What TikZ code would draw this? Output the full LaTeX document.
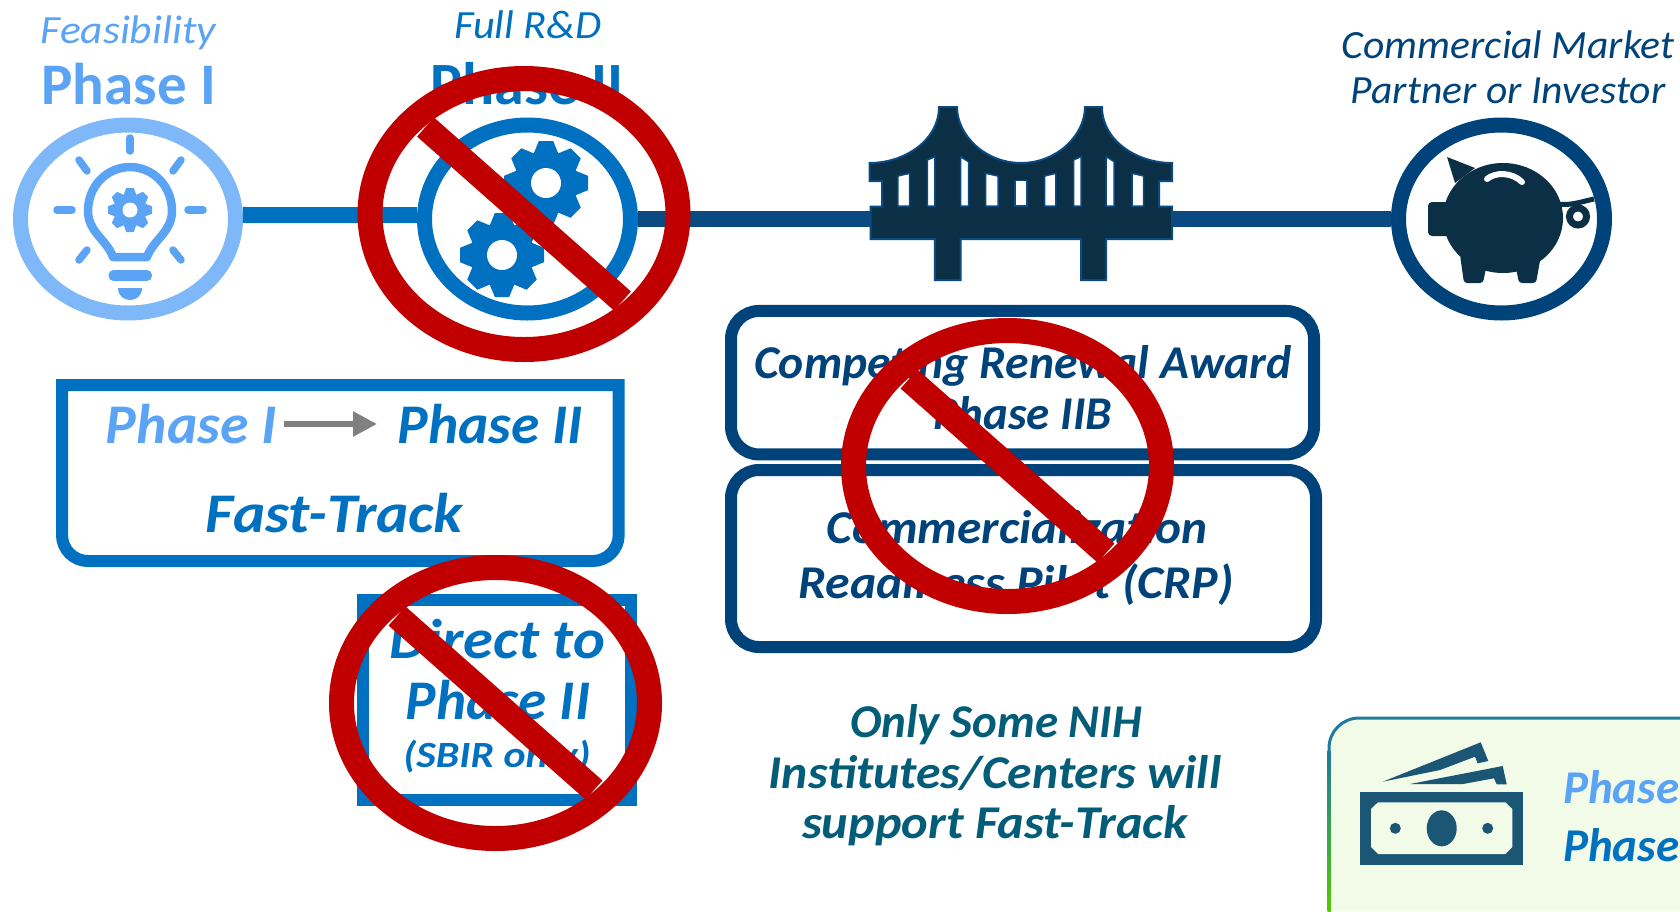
\documentclass[tikz,border=0pt]{standalone}
\usepackage{fontspec}
\setmainfont{Carlito}
\usetikzlibrary{shapes.geometric,arrows.meta}
\definecolor{ringone}{HTML}{7FB8F8}
\definecolor{phaseone}{HTML}{5BA3F5}
\definecolor{phasetwo}{HTML}{0070C0}
\definecolor{navy}{HTML}{00427A}
\definecolor{roadcol}{HTML}{0B4A80}
\definecolor{iron}{HTML}{0B2F45}
\definecolor{nored}{HTML}{C00000}
\definecolor{tealtext}{HTML}{035C78}
\definecolor{moneycol}{HTML}{1B5674}
\definecolor{panelcol}{HTML}{F2FAE8}
\definecolor{panelline}{HTML}{1F7A9C}
\newcommand{\gearicon}[6]{%
  \fill[#6] (#1,#2) circle (#3);
  \foreach \a in {0,45,...,315}
    \fill[#6,shift={(#1,#2)},rotate=\a] ({.9*#3},{-.3*#4}) -- (#4,{-.17*#4}) -- (#4,{.17*#4}) -- ({.9*#3},{.3*#4}) -- cycle;
  \fill[white] (#1,#2) circle (#5);
}
\begin{document}
\begin{tikzpicture}
  [x=1pt,y=-1pt,every node/.style={inner sep=0pt}]
  \tikzstyle{stage} = [draw,shape=ellipse,line width=15pt,minimum width=206pt,minimum height=188pt]
  \tikzstyle{nosign} = [draw=nored,shape=ellipse,line width=25pt,minimum width=308pt,minimum height=271pt]
  \tikzstyle{roundbox} = [draw=navy,shape=rectangle,line width=12pt,rounded corners=28pt]
  \tikzstyle{big} = [font=\fontsize{56}{60}\selectfont\bfseries\itshape,align=center,transform shape]
  \tikzstyle{mid} = [font=\fontsize{47}{54}\selectfont\bfseries\itshape,align=center,transform shape]
  \tikzstyle{small} = [font=\fontsize{40}{45}\selectfont\itshape,align=center,transform shape]
  \useasboundingbox (0,0) rectangle (1680,911);
  % stages
  \node[stage,draw=ringone,minimum width=215pt] (n1) at (128,219) {};
  \node[stage,draw=phasetwo] (n2) at (527.5,219) {};
  \node[stage,draw=navy] (n3) at (1501.5,219) {};
  \draw[phasetwo,line width=16pt] (n1.2) -- (n2.178);
  \draw[roadcol,line width=16pt] (n2) -- (n3);
  % titles
  \node[small,text=phaseone,anchor=base,xscale=1.086] (t1) at (128.5,43) {Feasibility};
  \node[anchor=base,text=phaseone,font=\fontsize{59}{60}\selectfont\bfseries] (t2) at (128.5,104) {Phase I};
  \node[small,text=phasetwo,anchor=base,xscale=1.06] (t3) at (528,38) {Full R\&D};
  \node[anchor=base,text=phasetwo,font=\fontsize{60}{60}\selectfont\bfseries] (t4) at (527,104) {Phase II};
  \node[small,text=navy,xscale=1.04] (t5) at (1508,67.5) {Commercial Market\\Partner or Investor};
  % bulb
  \foreach \xa/\ya/\xb/\yb in {130/138/130/151,79/160/87/171,181/160/173/171,57/210/72/210,188/210/203/210,87/250/79/260,173/250/181/260}
    \draw[phaseone,line width=7.5pt,line cap=round] (\xa,\ya) -- (\xb,\yb);
  \draw[phaseone,line width=8.5pt,line join=round] (113,257) .. controls (107,240) and (88,232) .. (88,211) .. controls (88,185) and (108,167) .. (130,167) .. controls (152,167) and (172,185) .. (172,211) .. controls (172,232) and (153,240) .. (147,257) -- cycle;
  \fill[phaseone,rounded corners=5pt] (108.5,270) rectangle (152,281);
  \fill[phaseone] (118,288) -- (142,288) .. controls (142,296) and (136,300) .. (130,300) .. controls (124,300) and (118,296) .. (118,288) -- cycle;
  \gearicon{130}{210}{16}{22}{7.5}{phaseone}
  % gears
  \gearicon{546}{183}{32}{42}{15}{phasetwo}
  \gearicon{502}{255}{32}{42}{15}{phasetwo}
  % bridge
  \filldraw[fill=iron,draw=roadcol,line width=2pt] (869.5,163) .. controls (905,163) and (939,140) .. (939,107) -- (957,107) .. controls (957,135) and (985,163) .. (1021,163) .. controls (1057,163) and (1085,135) .. (1085,107) -- (1102,107) .. controls (1102,140) and (1136,163) .. (1172,163) -- (1172,181) -- (1159,181) -- (1159,206.7) -- (1172,206.7) -- (1172,239) -- (1106.2,239) -- (1106.2,280) -- (1081,280) -- (1081,239) -- (960.5,239) -- (960.5,280) -- (934.8,280) -- (934.8,239) -- (870.5,239) -- (870.5,206.7) -- (882,206.7) -- (882,181) -- (869.5,181) -- cycle;
  \foreach \xa/\xb/\ya/\yb in {897.8/909.6/176/173.3,927.3/934.8/160/156.7,960.5/968.5/156.7/161.7,985.7/998/173.3/176,1015.2/1027/180.7/180.7,1044.6/1055.9/176/173.3,1073.5/1081/160/156.7,1106.2/1114.2/156.7/161.7,1132/1143.7/173.3/176}
    \filldraw[fill=white,draw=roadcol,line width=1.5pt] (\xa,206) -- (\xa,\ya) -- (\xb,\yb) -- (\xb,206) -- cycle;
  % piggy
  \fill[iron] (1503,218) ellipse (60 and 55);
  \fill[iron,rounded corners=4pt] (1428,202) rectangle (1450,236);
  \fill[iron] (1447,157) -- (1475,168) -- (1455,183) -- cycle;
  \fill[iron,rounded corners=3pt] (1460,255) -- (1464,283) -- (1483,283) -- (1486,268) -- (1516,268) -- (1519,283) -- (1536,283) -- (1541,255) -- cycle;
  \draw[white,line width=6pt,line cap=round] (1487,179) .. controls (1495,172) and (1512,172) .. (1522,182);
  \draw[iron,line width=5pt] (1556,204) .. controls (1570,206) and (1580,202) .. (1594,199);
  \draw[iron,line width=7pt] (1578,216.5) ellipse (8.5 and 8.5);
  % boxes
  \draw[phasetwo,line width=12pt] (62,385) -- (618.7,385) [rounded corners=26pt] -- (618.7,561) -- (62,561) [sharp corners] -- cycle;
  \node[big,text=phaseone,anchor=base,xscale=1.03] (b1) at (191.5,443) {Phase I};
  \node[big,text=phasetwo,anchor=base,xscale=1.025] (b2) at (490.5,443) {Phase II};
  \coordinate (a1) at (284,424);
  \coordinate (a2) at (377,424);
  \draw[gray,line width=5.5pt,-{Triangle[length=24pt,width=24pt]}] (a1) -- (a2);
  \node[big,text=phasetwo,anchor=base,xscale=1.09] (b3) at (334.5,532) {Fast-Track};
  \draw[phasetwo,line width=12pt] (363,600) rectangle (631,800);
  \node[big,text=phasetwo,anchor=base,xscale=1.08] (b4) at (497,658) {Direct to};
  \node[big,text=phasetwo,anchor=base,xscale=1.02] (b5) at (498,719) {Phase II};
  \node[text=phasetwo,anchor=base,transform shape,xscale=1.13,font=\fontsize{37}{40}\selectfont\bfseries\itshape] (b6) at (497,767) {(SBIR only)};
  \node[roundbox,minimum width=583pt,minimum height=143.5pt] (b7) at (1022.5,382.7) {};
  \node[mid,text=navy,anchor=base,xscale=1.014] (c1) at (1023,378.5) {Competing Renewal Award};
  \node[mid,text=navy,anchor=base] (c2) at (1023,429) {Phase IIB};
  \node[roundbox,minimum width=585pt,minimum height=177pt] (b8) at (1023.5,558.5) {};
  \node[mid,text=navy,anchor=base,xscale=1.05] (c3) at (1017,543) {Commercialization};
  \node[mid,text=navy,anchor=base,xscale=1.06] (c4) at (1016,598) {Readiness Pilot (CRP)};
  \node[mid,text=tealtext,anchor=base] (d1) at (996,737) {Only Some NIH};
  \node[mid,text=tealtext,anchor=base,xscale=1.058] (d2) at (995,788) {Institutes/Centers will};
  \node[mid,text=tealtext,anchor=base,xscale=1.074] (d3) at (995,838) {support Fast-Track};
  % money panel
  \fill[panelcol] (1329,911) -- (1329,748) [rounded corners=30pt] -- (1329,718) [sharp corners] -- (1680,718) -- (1680,911) -- cycle;
  \draw[panelline,line width=3pt] (1329,750) [rounded corners=30pt] -- (1329,718) [sharp corners] -- (1680,718);
  \shade[top color=panelline,middle color=roadcol,bottom color=green!60!yellow!80!black] (1327.5,750) rectangle (1330.5,911);
  \fill[moneycol] (1382.7,781.7) -- (1480.7,742.3) -- (1488.3,761) -- (1477.7,763.3) -- (1475,756.7) -- (1440,770) -- cycle;
  \fill[moneycol] (1410,784) -- (1502.7,766) -- (1506.7,784.3) -- (1496.7,784.3) -- (1494,778.3) -- (1463,784) -- cycle;
  \fill[moneycol] (1360,791.7) rectangle (1522.7,865);
  \fill[panelcol] (1378,802.3) -- (1505.3,802.3) -- (1512.3,809) -- (1512.3,847) -- (1505.3,854) -- (1378,854) -- (1371,847) -- (1371,809) -- cycle;
  \fill[moneycol] (1441.7,828.3) ellipse (15 and 18);
  \fill[moneycol] (1395.3,828.3) circle (5.5);
  \fill[moneycol] (1487.7,828.3) circle (5.5);
  \node[mid,text=phaseone,anchor=base west] (p1) at (1563,803) {Phase};
  \node[mid,text=phasetwo,anchor=base west] (p2) at (1563,861) {Phase};
  % no signs
  \foreach \cx/\cy/\cname in {524/214/a,1007.5/466/b,495.5/703/c} {
    \node[nosign] (no\cname) at (\cx,\cy) {};
    \draw[nored,line width=25.5pt] ([shift={(-98.5,-87)}]no\cname.center) -- ([shift={(98.5,87)}]no\cname.center);
  }
\end{tikzpicture}
\end{document}
